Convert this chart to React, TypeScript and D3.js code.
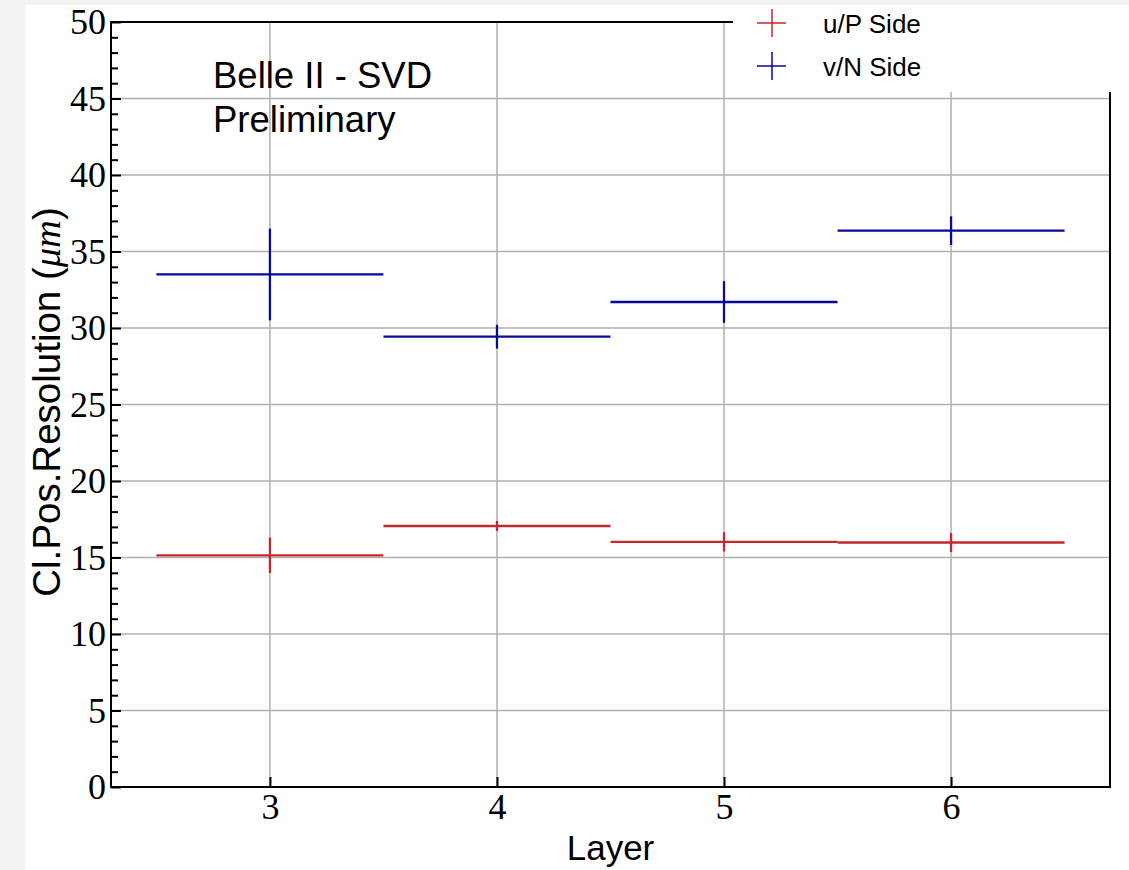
import React, { useEffect, useRef } from 'react';
import * as d3 from 'd3';

// layers and measured cluster position resolution (um)
const layers = [3, 4, 5, 6];
const uSide = [15.14, 17.06, 16.02, 15.98];
const uErr = [1.16, 0.33, 0.63, 0.62];
const vSide = [33.5, 29.43, 31.7, 36.36];
const vErr = [3.0, 0.78, 1.36, 0.94];
const binHalf = 0.5;
const yTicks = [0, 5, 10, 15, 20, 25, 30, 35, 40, 45, 50];
const seriesNames = ['u/P Side', 'v/N Side'];

const W = 1129, H = 870;
const RED = '#c4282c';
const BLUE = '#08089a';
const SERIF = '"Liberation Serif", "DejaVu Serif", serif';
const SANS = '"Liberation Sans", "DejaVu Sans", sans-serif';

function App() {
  const ref = useRef<SVGSVGElement | null>(null);

  useEffect(() => {
    const svg = d3.select(ref.current);
    svg.selectAll('*').remove();

    const left = 111, right = 1110, top = 22, bottom = 787;
    const x = d3.scaleLinear().domain([2.3, 6.7]).range([left, right]);
    const y = d3.scaleLinear().domain([0, 50]).range([bottom, top]);

    // page background
    svg.append('rect').attr('width', W).attr('height', H).attr('fill', '#f2f2f2');
    svg.append('rect').attr('x', 25).attr('y', 5).attr('width', W - 25).attr('height', H - 5).attr('fill', '#fff');

    // grid
    const grid = svg.append('g');
    grid.selectAll('line.gy')
      .data(yTicks.slice(1, -1))
      .enter().append('line')
        .attr('x1', left).attr('x2', right)
        .attr('y1', (d) => y(d)).attr('y2', (d) => y(d))
        .attr('stroke', '#b0b0b0').attr('stroke-width', 1.5);
    grid.selectAll('line.gx')
      .data(layers)
      .enter().append('line')
        .attr('x1', (d) => x(d)).attr('x2', (d) => x(d))
        .attr('y1', top).attr('y2', bottom)
        .attr('stroke', '#b0b0b0').attr('stroke-width', 1.5);

    // error bars
    const drawSeries = (vals: number[], errs: number[], color: string) => {
      const g = svg.append('g');
      layers.forEach((l, i) => {
        g.append('line')
          .attr('x1', x(l - binHalf)).attr('x2', x(l + binHalf))
          .attr('y1', y(vals[i])).attr('y2', y(vals[i]))
          .attr('stroke', color).attr('stroke-width', 2.3);
        g.append('line')
          .attr('x1', x(l)).attr('x2', x(l))
          .attr('y1', y(vals[i] - errs[i])).attr('y2', y(vals[i] + errs[i]))
          .attr('stroke', color).attr('stroke-width', 2.3);
      });
    };
    drawSeries(uSide, uErr, RED);
    drawSeries(vSide, vErr, BLUE);

    // axes
    const yAxis = svg.append('g')
      .attr('transform', `translate(${left},0)`)
      .call(d3.axisLeft(y).tickValues(yTicks).tickSize(-10).tickPadding(5).tickFormat(d3.format('d')));
    const yMinor = svg.append('g')
      .attr('transform', `translate(${left},0)`)
      .call(d3.axisLeft(y).tickValues(d3.range(0, 51, 1).filter((v) => v % 5 !== 0)).tickSize(-7).tickFormat(() => ''));
    const xAxis = svg.append('g')
      .attr('transform', `translate(0,${bottom})`)
      .call(d3.axisBottom(x).tickValues(layers).tickSize(-10).tickPadding(6).tickFormat(d3.format('d')));

    [yAxis, yMinor, xAxis].forEach((a) => {
      a.select('.domain').remove();
      a.selectAll('line').attr('stroke', '#000').attr('stroke-width', 2);
      a.selectAll('text')
        .style('font-family', SERIF)
        .style('font-size', '36px')
        .attr('fill', '#000');
    });

    // frame
    svg.append('rect')
      .attr('x', left).attr('y', top)
      .attr('width', right - left).attr('height', bottom - top)
      .attr('fill', 'none').attr('stroke', '#000').attr('stroke-width', 2);

    // legend (white box over the top-right corner)
    const lg = svg.append('g');
    lg.append('rect').attr('x', 733).attr('y', 5).attr('width', W - 733).attr('height', 87).attr('fill', '#fff');
    [RED, BLUE].forEach((c, i) => {
      const cy = 23 + i * 43;
      lg.append('line').attr('x1', 757).attr('x2', 786).attr('y1', cy).attr('y2', cy).attr('stroke', c).attr('stroke-width', 1.5);
      lg.append('line').attr('x1', 772).attr('x2', 772).attr('y1', cy - 14).attr('y2', cy + 14).attr('stroke', c).attr('stroke-width', 1.5);
      lg.append('text')
        .attr('x', 823).attr('y', cy + 10)
        .style('font-family', SANS).style('font-size', '26px')
        .attr('fill', '#000')
        .text(seriesNames[i]);
    });

    // annotation
    const ann = svg.append('text')
      .style('font-family', SANS).style('font-size', '36.5px').attr('fill', '#000');
    ann.append('tspan').attr('x', 213).attr('y', 88).text('Belle II - SVD');
    ann.append('tspan').attr('x', 213).attr('y', 132).text('Preliminary');

    // axis labels
    svg.append('text')
      .attr('x', (left + right) / 2).attr('y', 860)
      .attr('text-anchor', 'middle')
      .style('font-family', SANS).style('font-size', '35px')
      .text('Layer');

    const yl = svg.append('text')
      .attr('transform', 'translate(60,402) rotate(-90)')
      .attr('text-anchor', 'middle')
      .style('font-family', SANS).style('font-size', '38.5px');
    yl.append('tspan').text('Cl.Pos.Resolution (');
    yl.append('tspan').style('font-family', SERIF).style('font-style', 'italic').text('μm');
    yl.append('tspan').text(')');
  }, []);

  return (
    <svg ref={ref} width={W} height={H}
      style={{ position: 'absolute', left: 0, top: 0, display: 'block' }} />
  );
}

export default App;
